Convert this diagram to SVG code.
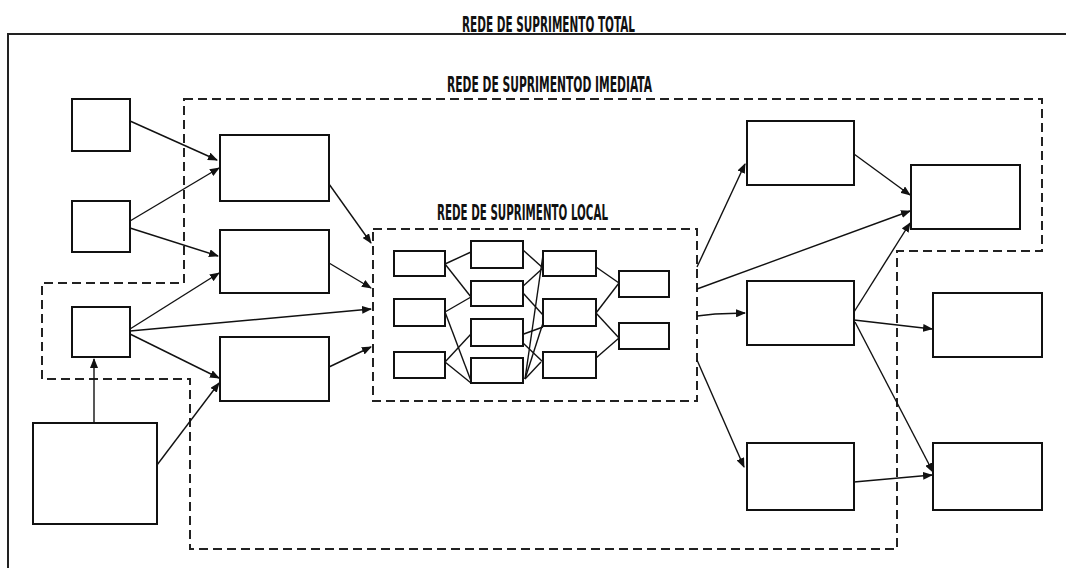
<svg xmlns="http://www.w3.org/2000/svg" width="1066" height="568" viewBox="0 0 1066 568">
<style>
.box{fill:#fff;stroke:#111;stroke-width:2}
.dash{fill:none;stroke:#222;stroke-width:2;stroke-dasharray:9 5}
.frame{fill:none;stroke:#222;stroke-width:2}
.c{fill:none;stroke:#111;stroke-width:1.4}
.ca{fill:none;stroke:#111;stroke-width:1.4;marker-end:url(#ah)}
.t{font-family:"Liberation Sans Narrow","DejaVu Sans Condensed","Liberation Sans",sans-serif;font-weight:bold;font-size:21px;fill:#111}
</style>
<defs>
<marker id="ah" markerWidth="10" markerHeight="8" refX="9" refY="4" orient="auto" markerUnits="userSpaceOnUse">
<path d="M0,0 L10,4 L0,8 z" fill="#111"/>
</marker>
</defs>
<rect width="1066" height="568" fill="#fff"/>
<g id="frames">
<path class="frame" d="M8,568 V34 H1066"/>
<text class="t" x="462" y="32" textLength="173" lengthAdjust="spacingAndGlyphs">REDE DE SUPRIMENTO TOTAL</text>
<path class="dash" d="M184,99 H1042 V251 H897 V549 H190 V379 H42 V283 H184 Z"/>
<text class="t" x="447" y="92" textLength="205" lengthAdjust="spacingAndGlyphs">REDE DE SUPRIMENTOD IMEDIATA</text>
<rect class="dash" x="373" y="229" width="324" height="172"/>
<text class="t" x="437" y="220" textLength="171" lengthAdjust="spacingAndGlyphs">REDE DE SUPRIMENTO LOCAL</text>
</g>
<g id="connectors">
<line class="ca" x1="130" y1="121" x2="217" y2="160"/>
<line class="ca" x1="130" y1="221" x2="219" y2="168"/>
<line class="ca" x1="130" y1="228" x2="218" y2="256"/>
<line class="ca" x1="130" y1="329" x2="219" y2="273"/>
<line class="ca" x1="130" y1="331" x2="371" y2="309"/>
<line class="ca" x1="130" y1="334" x2="219" y2="378"/>
<line class="ca" x1="157" y1="465" x2="219" y2="383"/>
<line class="ca" x1="94" y1="423" x2="94" y2="359"/>
<line class="ca" x1="329" y1="184" x2="371" y2="243"/>
<line class="ca" x1="329" y1="263" x2="371" y2="288"/>
<line class="ca" x1="329" y1="367" x2="371" y2="347"/>
<line class="c" x1="445" y1="264" x2="471" y2="252"/>
<line class="c" x1="445" y1="264" x2="471" y2="297"/>
<line class="c" x1="445" y1="312" x2="471" y2="297"/>
<line class="c" x1="445" y1="312" x2="471" y2="381"/>
<line class="c" x1="445" y1="362" x2="471" y2="334"/>
<line class="c" x1="445" y1="362" x2="471" y2="383"/>
<line class="c" x1="523" y1="250" x2="543" y2="268"/>
<line class="c" x1="543" y1="268" x2="521" y2="288"/>
<line class="c" x1="523" y1="293" x2="543" y2="315"/>
<line class="c" x1="543" y1="327" x2="521" y2="335"/>
<line class="c" x1="523" y1="343" x2="543" y2="362"/>
<line class="c" x1="525" y1="379" x2="543" y2="255"/>
<line class="c" x1="525" y1="379" x2="543" y2="323"/>
<line class="c" x1="525" y1="379" x2="541" y2="362"/>
<line class="c" x1="596" y1="267" x2="619" y2="283"/>
<line class="c" x1="596" y1="313" x2="619" y2="283"/>
<line class="c" x1="596" y1="313" x2="619" y2="338"/>
<line class="c" x1="596" y1="358" x2="619" y2="338"/>
<line class="ca" x1="697" y1="267" x2="745" y2="164"/>
<line class="ca" x1="697" y1="289" x2="910" y2="211"/>
<polyline class="ca" points="697,316 715,314 745,313"/>
<line class="ca" x1="697" y1="360" x2="744" y2="467"/>
<line class="ca" x1="854" y1="154" x2="910" y2="195"/>
<line class="ca" x1="854" y1="312" x2="910" y2="223"/>
<line class="ca" x1="854" y1="320" x2="932" y2="329"/>
<line class="ca" x1="855" y1="322" x2="933" y2="472"/>
<line class="ca" x1="854" y1="482" x2="932" y2="475"/>
</g>
<g id="n-left1"><rect class="box" x="72" y="99" width="58" height="52"/></g>
<g id="n-left2"><rect class="box" x="72" y="201" width="58" height="51"/></g>
<g id="n-left3"><rect class="box" x="72" y="307" width="58" height="50"/></g>
<g id="n-bottom"><rect class="box" x="33" y="423" width="124" height="101"/></g>
<g id="n-midA"><rect class="box" x="220" y="135" width="109" height="66"/></g>
<g id="n-midB"><rect class="box" x="220" y="230" width="109" height="63"/></g>
<g id="n-midC"><rect class="box" x="220" y="337" width="109" height="64"/></g>
<g id="n-l11"><rect class="box" x="394" y="251" width="51" height="25"/></g>
<g id="n-l12"><rect class="box" x="394" y="299" width="51" height="27"/></g>
<g id="n-l13"><rect class="box" x="394" y="352" width="51" height="26"/></g>
<g id="n-l21"><rect class="box" x="471" y="241" width="52" height="27"/></g>
<g id="n-l22"><rect class="box" x="471" y="281" width="52" height="25"/></g>
<g id="n-l23"><rect class="box" x="471" y="319" width="52" height="27"/></g>
<g id="n-l24"><rect class="box" x="471" y="358" width="52" height="25"/></g>
<g id="n-l31"><rect class="box" x="543" y="251" width="53" height="25"/></g>
<g id="n-l32"><rect class="box" x="543" y="299" width="53" height="27"/></g>
<g id="n-l33"><rect class="box" x="543" y="352" width="53" height="26"/></g>
<g id="n-l41"><rect class="box" x="619" y="271" width="50" height="26"/></g>
<g id="n-l42"><rect class="box" x="619" y="323" width="50" height="26"/></g>
<g id="n-r1"><rect class="box" x="747" y="121" width="107" height="64"/></g>
<g id="n-r2"><rect class="box" x="911" y="165" width="109" height="64"/></g>
<g id="n-r3"><rect class="box" x="747" y="281" width="107" height="64"/></g>
<g id="n-r4"><rect class="box" x="933" y="293" width="109" height="64"/></g>
<g id="n-r5"><rect class="box" x="747" y="443" width="107" height="67"/></g>
<g id="n-r6"><rect class="box" x="933" y="443" width="109" height="67"/></g>
</svg>
